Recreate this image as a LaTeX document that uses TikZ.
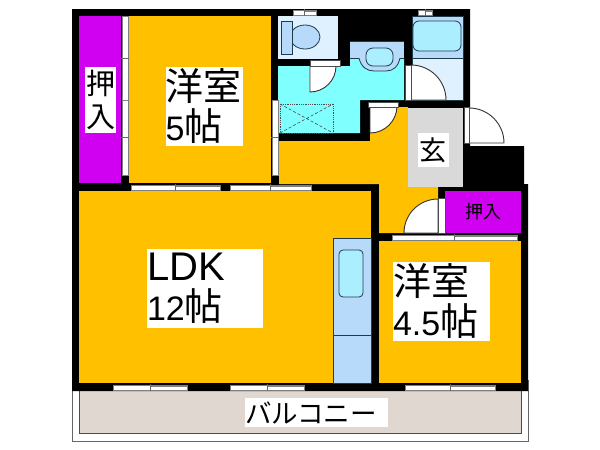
\documentclass[tikz,border=0pt]{standalone}
\usepackage{fontspec}
\setmainfont{Liberation Sans}
\newfontfamily\jpfont{Noto Sans CJK JP}
\newcommand{\digits}[1]{{\fontsize{34}{40}\selectfont\rmfamily #1}}
\definecolor{roomorange}{HTML}{FFC000}
\definecolor{closetpurple}{HTML}{D000F0}
\definecolor{washcyan}{HTML}{80FFFF}
\definecolor{fittingblue}{HTML}{B8DAFA}
\definecolor{wetblue}{HTML}{DFF1FF}
\definecolor{tubblue}{HTML}{ABEFFF}
\definecolor{hallgrey}{HTML}{D9D9D9}
\definecolor{balconytan}{HTML}{E0D8D0}
\definecolor{linedark}{HTML}{1F3A4A}

\begin{document}
\begin{tikzpicture}[x=1pt,y=-1pt,
  room/.style={fill=roomorange},
  closet/.style={fill=closetpurple},
  fitting/.style={draw=linedark,line width=0.8pt},
  leaf/.style={fill=white,draw=black!70,line width=0.8pt},
  swing/.style={fill=white,draw=black!80,line width=0.9pt},
  slide/.style={fill=white,draw=black!50,line width=0.7pt},
  bigbox/.style={fill=white,inner sep=0pt,align=left,font=\fontsize{38}{40}\selectfont\jpfont},
  smallbox/.style={fill=white,inner sep=0pt,align=center,font=\fontsize{29}{33}\selectfont\jpfont}]

  \useasboundingbox (0,0) rectangle (600,450);

  % balcony
  \path[fill=white,draw=black!60,line width=1pt] (72,380) rectangle (528,441);
  \path[fill=balconytan,draw=black!70,line width=0.7pt] (79,385) rectangle (521,433);

  % walls
  \fill[black] (72,9) -- (470,9) -- (470,146) -- (524,146) -- (524,184) -- (528,184)
    -- (528,391) -- (72,391) -- cycle;

  % rooms
  \path[closet] (79,16) rectangle (121,183);
  \path[room] (129,16) rectangle (271,183);
  \path[room] (79,191) rectangle (371,383);
  \path[room] (379,241) rectangle (521,383);
  \path[room] (279,141) -- (370,141) -- (370,107) -- (408,107) -- (408,187) -- (438,187)
    -- (438,233) -- (379,233) -- (379,184) -- (279,184) -- cycle;
  \path[closet] (445,191) rectangle (521,233);
  \path[fill=hallgrey] (408,108) rectangle (463,187);

  % wash room
  \path[fill=washcyan] (278,66) -- (350,66) -- (350,58) -- (404,58) -- (404,100) -- (360,100)
    -- (360,133) -- (278,133) -- cycle;
  \path[draw=black!70,densely dotted,line width=0.8pt] (280,104) rectangle (333,133);
  \draw[black!70,densely dashed,line width=0.6pt] (280,104) -- (333,133) (280,133) -- (333,104);
  \path[fill=fittingblue] (350,41) rectangle (404,58);
  \path[fitting,fill=fittingblue] (359,58) .. controls (361,67) and (367,71) .. (374,71) -- (386,71)
    .. controls (393,71) and (398,67) .. (400,58);
  \draw[fitting] (350,58) -- (359,58) (400,58) -- (404,58) (350,41) -- (404,41);
  \path[fitting,fill=tubblue,rounded corners=7pt] (366,48) rectangle (393,66);

  % toilet
  \path[fill=wetblue] (278,16) rectangle (338,59);
  \path[fitting,fill=fittingblue] (305,37) ellipse (15 and 12);
  \path[fitting,fill=fittingblue] (281,21) rectangle (292,54);

  % bath
  \path[fill=wetblue,draw=linedark,line width=0.6pt] (412,58) rectangle (463,100);
  \path[fitting,fill=fittingblue] (412,16) rectangle (463,58);
  \path[fitting,fill=tubblue,rounded corners=6pt] (413,21) rectangle (461,51);

  % kitchen
  \path[fitting,fill=fittingblue] (333,238) rectangle (371,383);
  \draw[fitting] (333,335) -- (371,335);
  \path[fitting,fill=tubblue,rounded corners=4pt] (339,250) rectangle (363,297);

  % doors
  \path[swing] (310,66) -- (310,92) arc[start angle=90,end angle=0,radius=26] -- cycle;
  \path[leaf] (310,60) rectangle (340,66);
  \path[swing] (411,65) arc[start angle=-90,end angle=0,radius=35] -- (411,100) -- cycle;
  \path[leaf] (405,65) rectangle (411,100);
  \path[swing] (370,133) arc[start angle=90,end angle=0,radius=27] -- (370,106) -- cycle;
  \path[leaf] (368,102) rectangle (398,107);
  \path[swing] (469,108) arc[start angle=-90,end angle=0,radius=35] -- (469,143) -- cycle;
  \path[leaf] (464,107) rectangle (469,143);
  \path[swing] (404,233) arc[start angle=180,end angle=270,radius=34] -- (438,233) -- cycle;
  \path[leaf] (438,198) rectangle (445,233);

  % sliding doors and windows
  \foreach \xa/\xb/\ya/\yb in {131/220/185/190,230/311/185/190,113/187/385/390,230/304/385/390,
    405/495/385/390,392/517/235/240,293/316/10/15,418/432/10/15}
    {
    \path[slide] (\xa,\ya) rectangle (\xb,\yb);
    \fill[black!50] ({(\xa+\xb)/2},\ya) rectangle (\xb,\ya+2);
    \draw[black!60,line width=0.7pt] ({(\xa+\xb)/2},\ya-1) -- ({(\xa+\xb)/2},\yb+1);
    }
  \foreach \xa/\xb/\ya/\yb in {122/128/16/100,122/128/100/175,272/278/100/175}
    {
    \path[slide] (\xa,\ya) rectangle (\xb,\yb);
    \draw[black!60,line width=0.7pt] (\xa-1,{(\ya+\yb)/2}) -- (\xb+1,{(\ya+\yb)/2});
    }

  % labels
  \node[smallbox,minimum width=31pt,minimum height=66pt] (closeta) at (100.5,100) {押\\入};
  \node[bigbox,text width=77pt,minimum height=79pt] (rooma) at (204,106.5) {洋室\\\digits{5}帖};
  \node[bigbox,text width=116pt,minimum height=79pt] (ldk) at (205,288) {{\fontsize{40}{40}\selectfont\rmfamily LDK}\\\digits{12}帖};
  \node[bigbox,text width=97pt,minimum height=79pt] (roomb) at (441.5,301.5) {洋室\\\digits{4.5}帖};
  \node[fill=white,inner sep=0pt,minimum width=31pt,minimum height=34pt,font=\fontsize{27}{30}\selectfont\jpfont] (hall) at (433,150) {玄};
  \node[font=\fontsize{18}{20}\selectfont\jpfont] (closetb) at (483,212) {押入};
  \node[fill=white,inner sep=0pt,text width=143pt,align=left,minimum height=29pt,font=\fontsize{26.5}{30}\selectfont\jpfont] (balcony) at (316.5,412.5) {バルコニー};
\end{tikzpicture}
\end{document}
